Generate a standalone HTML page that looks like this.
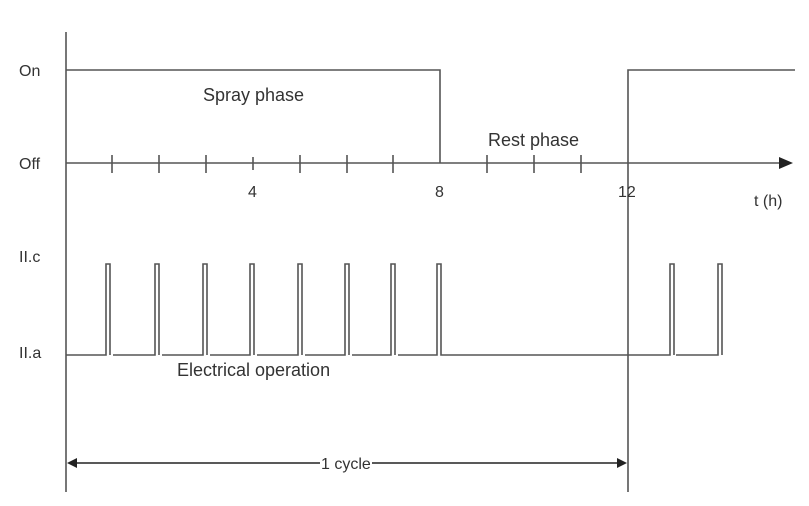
<!DOCTYPE html>
<html><head><meta charset="utf-8"><style>
html,body{margin:0;padding:0;background:#fff;}
svg{display:block;}
text{font-family:"Liberation Sans",sans-serif;font-size:16px;fill:#333;}
</style></head><body>
<svg width="809" height="506" viewBox="0 0 809 506" xmlns="http://www.w3.org/2000/svg">
<g stroke="#555" stroke-width="1.6" fill="none">
<line x1="66" y1="32" x2="66" y2="492"/>
<polyline points="66,70 440,70 440,163"/>
<polyline points="628,492 628,70 795,70"/>
<line x1="66" y1="163" x2="780" y2="163"/>
<g>
<line x1="112" y1="155" x2="112" y2="173"/>
<line x1="159" y1="155" x2="159" y2="173"/>
<line x1="206" y1="155" x2="206" y2="173"/>
<line x1="253" y1="157" x2="253" y2="170"/>
<line x1="300" y1="155" x2="300" y2="173"/>
<line x1="347" y1="155" x2="347" y2="173"/>
<line x1="393" y1="155" x2="393" y2="173"/>
<line x1="487" y1="155" x2="487" y2="173"/>
<line x1="534" y1="155" x2="534" y2="173"/>
<line x1="581" y1="155" x2="581" y2="173"/>
</g>
<path d="M66,355 H106 V264 H110 V355 M113,355 H155 V264 H159 V355 M162,355 H203 V264 H207 V355 M210,355 H250 V264 H254 V355 M257,355 H298 V264 H302 V355 M305,355 H345 V264 H349 V355 M352,355 H391 V264 H395 V355 M398,355 H437 V264 H441 V355 H670 V264 H674 V355 M676,355 H718 V264 H722 V355"/>
<line x1="72" y1="463" x2="320" y2="463" stroke="#222"/>
<line x1="372" y1="463" x2="622" y2="463" stroke="#222"/>
</g>
<polygon points="793,163 779,157 779,169" fill="#222"/>
<polygon points="67,463 77,458 77,468" fill="#222"/>
<polygon points="627,463 617,458 617,468" fill="#222"/>
<text x="19" y="76">On</text>
<text x="19" y="169">Off</text>
<text x="19" y="262">II.c</text>
<text x="19" y="358">II.a</text>
<text x="203" y="101" style="font-size:18px">Spray phase</text>
<text x="488" y="146" style="font-size:18px">Rest phase</text>
<text x="248" y="197">4</text>
<text x="435" y="197">8</text>
<text x="618" y="197">12</text>
<text x="754" y="206">t (h)</text>
<text x="177" y="376" style="font-size:18px">Electrical operation</text>
<text x="321" y="469">1 cycle</text>
</svg>
</body></html>
